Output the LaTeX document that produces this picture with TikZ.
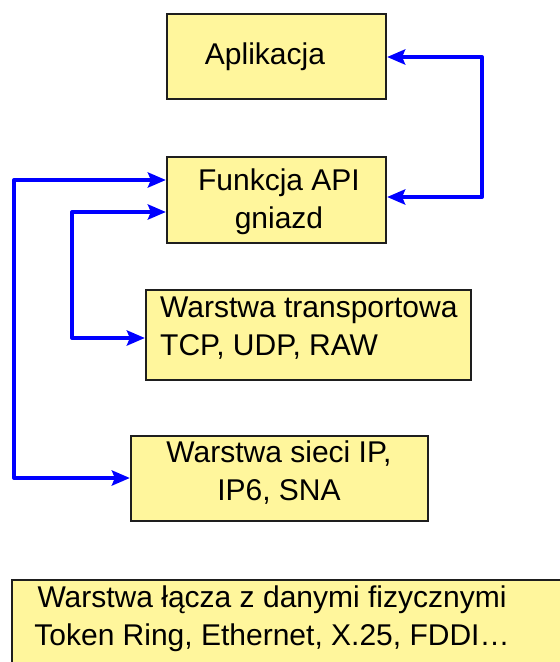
\documentclass[tikz,border=0pt]{standalone}
\usepackage{fontspec}
\setmainfont{Liberation Sans}
\usetikzlibrary{arrows.meta}
\definecolor{boxfill}{HTML}{FFF69C}
\definecolor{boxline}{HTML}{1E1E1E}
\tikzset{
  layer/.style={draw=boxline, line width=2.2pt, fill=boxfill, rectangle, inner sep=0pt},
  lbl/.style={inner sep=0pt, font=\fontsize{30}{38}\selectfont, align=center},
  link/.style={draw=blue, line width=4pt, line join=round, {Stealth[length=18pt,width=15pt,inset=3pt]}-{Stealth[length=18pt,width=15pt,inset=3pt]}}
}
\begin{document}
\begin{tikzpicture}[x=1pt,y=-1pt]
\useasboundingbox (0,0) rectangle (560,662);
% boxes
\node[layer, minimum width=219pt, minimum height=85pt] (app) at (276.5,56.5) {};
\node[layer, minimum width=219pt, minimum height=86pt] (api) at (276.5,200) {};
\node[layer, minimum width=325pt, minimum height=90pt] (tr) at (308.5,335) {};
\node[layer, minimum width=297pt, minimum height=85pt] (net) at (279.5,478.5) {};
\node[layer, minimum width=570pt, minimum height=100pt, anchor=north west] (lnk) at (11,579) {};
% texts
\node[lbl] (tapp) at (265,57) {Aplikacja};
\node[lbl, anchor=center] (tapi) at (279,202) {Funkcja API\\gniazd};
\node[lbl, align=left, anchor=north west] (ttr) at (160,297) {Warstwa transportowa\\TCP, UDP, RAW};
\node[lbl] (tnet) at (279,473) {Warstwa sieci IP,\\IP6, SNA};
\node[lbl] (tlnk) at (272,619) {Warstwa łącza z danymi fizycznymi\\Token Ring, Ethernet, X.25, FDDI\ldots};
% connectors
\coordinate (r1) at (482,57);
\coordinate (r2) at (482,197);
\coordinate (o1) at (14,180);
\coordinate (o2) at (14,478);
\coordinate (i1) at (72,212);
\coordinate (i2) at (72,338);
\draw[link] (app.east |- r1) -- (r1) -- (r2) -- (api.east |- r2);
\draw[link] (api.west |- o1) -- (o1) -- (o2) -- (net.west |- o2);
\draw[link] (api.west |- i1) -- (i1) -- (i2) -- (tr.west |- i2);
\end{tikzpicture}
\end{document}
